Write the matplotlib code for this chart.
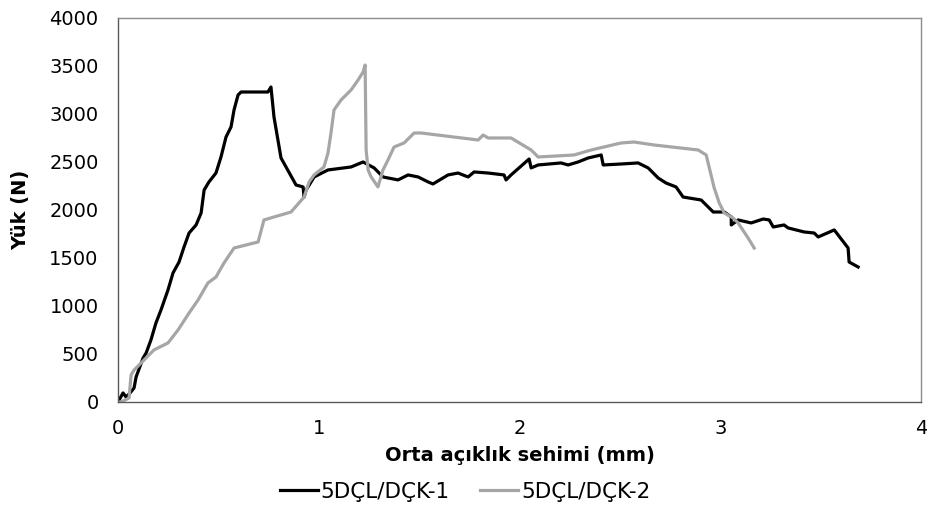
import numpy as np
import matplotlib
matplotlib.use("Agg")
import matplotlib.pyplot as plt

# 5DÇL/DÇK-1 (black)
x1 = [0.000, 0.025, 0.040, 0.060, 0.080, 0.090, 0.125, 0.140, 0.164, 0.189,
      0.214, 0.249, 0.274, 0.304, 0.329, 0.354, 0.389, 0.414, 0.429, 0.453,
      0.488, 0.513, 0.538, 0.563, 0.578, 0.598, 0.613, 0.747, 0.762, 0.777,
      0.812, 0.887, 0.922, 0.927, 0.937, 0.977, 1.046, 1.161, 1.221, 1.276,
      1.320, 1.395, 1.445, 1.495, 1.545, 1.569, 1.644, 1.694, 1.744, 1.774,
      1.844, 1.923, 1.933, 1.958, 2.048, 2.058, 2.093, 2.207, 2.242, 2.292,
      2.342, 2.407, 2.417, 2.506, 2.591, 2.641, 2.691, 2.730, 2.780, 2.815,
      2.905, 2.965, 3.020, 3.055, 3.055, 3.089, 3.154, 3.214, 3.244, 3.264,
      3.318, 3.338, 3.418, 3.468, 3.488, 3.568, 3.637, 3.642, 3.687]
y1 = [0, 94, 52, 94, 146, 260, 458, 510, 646, 823,
      958, 1167, 1344, 1458, 1615, 1760, 1844, 1969, 2208, 2292,
      2385, 2552, 2760, 2865, 3042, 3198, 3229, 3229, 3281, 2969,
      2542, 2260, 2240, 2135, 2208, 2344, 2417, 2448, 2500, 2438,
      2344, 2313, 2365, 2344, 2292, 2271, 2365, 2385, 2344, 2396,
      2385, 2365, 2313, 2365, 2531, 2438, 2469, 2490, 2469, 2500,
      2542, 2573, 2469, 2479, 2490, 2438, 2333, 2281, 2240, 2135,
      2104, 1979, 1979, 1927, 1844, 1896, 1865, 1906, 1896, 1823,
      1844, 1813, 1771, 1760, 1719, 1792, 1604, 1458, 1406]

# 5DÇL/DÇK-2 (gray)
x2 = [0.000, 0.015, 0.055, 0.065, 0.080, 0.130, 0.179, 0.249, 0.299, 0.354,
      0.399, 0.448, 0.488, 0.528, 0.578, 0.698, 0.727, 0.777, 0.862, 0.927,
      0.952, 0.977, 1.026, 1.046, 1.061, 1.076, 1.111, 1.161, 1.196, 1.221,
      1.231, 1.236, 1.246, 1.261, 1.295, 1.320, 1.345, 1.375, 1.425, 1.475,
      1.510, 1.794, 1.819, 1.844, 1.958, 2.058, 2.093, 2.272, 2.357, 2.506,
      2.571, 2.671, 2.890, 2.930, 2.970, 2.995, 3.020, 3.064, 3.089, 3.139,
      3.169]
y2 = [0, 0, 42, 281, 333, 438, 542, 615, 750, 927,
      1063, 1240, 1302, 1448, 1604, 1667, 1896, 1927, 1979, 2135,
      2292, 2365, 2448, 2594, 2802, 3042, 3146, 3250, 3354, 3438,
      3510, 2625, 2417, 2344, 2240, 2417, 2521, 2656, 2698, 2802,
      2802, 2729, 2781, 2750, 2750, 2625, 2552, 2573, 2625, 2698,
      2708, 2677, 2625, 2573, 2229, 2073, 1969, 1917, 1865, 1708,
      1604]

labels = ["5DÇL/DÇK-1", "5DÇL/DÇK-2"]

plt.rcParams['font.family'] = ['DejaVu Sans']

fig = plt.figure(figsize=(9.27, 5.08), dpi=100)
ax = fig.add_axes([0.1273, 0.2087, 0.8662, 0.7559])

ax.plot(x1, y1, color="black", lw=2.3, label=labels[0], solid_joinstyle="round")
ax.plot(x2, y2, color="#a6a6a6", lw=2.3, label=labels[1], solid_joinstyle="round")

ax.set_xlim(0, 4)
ax.set_ylim(0, 4000)
ax.set_xticks(np.arange(0, 5, 1))
ax.set_yticks(np.arange(0, 4001, 500))
ax.tick_params(length=0, labelsize=14, colors="black")
ax.tick_params(axis="y", pad=14)
ax.tick_params(axis="x", pad=12)

for side in ["left", "bottom"]:
    ax.spines[side].set_color("#595959")
for side in ["top", "right"]:
    ax.spines[side].set_color("#8c8c8c")
for s in ax.spines.values():
    s.set_linewidth(1.0)

ax.set_xlabel("Orta açıklık sehimi (mm)", fontsize=14, fontweight="bold", labelpad=6)
ax.set_ylabel("Yük (N)", fontsize=14, fontweight="bold", labelpad=14)

fig.legend(loc="center", bbox_to_anchor=(465 / 927, 1 - 492 / 508), ncol=2,
           frameon=False, fontsize=15.5, handlelength=1.75, handletextpad=0.15,
           columnspacing=1.4)

fig.savefig("out.png", dpi=100)
